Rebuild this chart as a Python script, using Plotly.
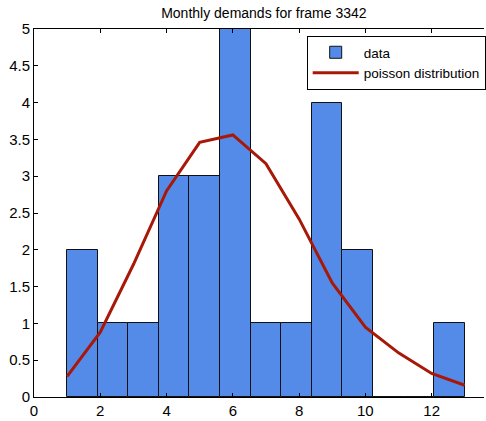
import plotly.graph_objects as go

# Data
bin_edges_min = 1.0
bin_edges_max = 13.0
n_bins = 13
counts = [2, 1, 1, 3, 3, 5, 1, 1, 4, 2, 0, 0, 1]
poisson_x = [1, 2, 3, 4, 5, 6, 7, 8, 9, 10, 11, 12, 13]
poisson_y = [0.28, 0.88, 1.8, 2.8, 3.46, 3.56, 3.17, 2.42, 1.55, 0.95, 0.6, 0.32, 0.16]

bw = (bin_edges_max - bin_edges_min) / n_bins
centers = [bin_edges_min + (k + 0.5) * bw for k in range(n_bins)]

font = "Liberation Sans, Arial, sans-serif"

fig = go.Figure()
fig.add_trace(go.Bar(
    x=centers, y=counts, width=bw, name="data",
    marker=dict(color="#558be8", line=dict(color="#111111", width=1)),
))
fig.add_trace(go.Scatter(
    x=poisson_x, y=poisson_y, mode="lines", name="poisson distribution",
    line=dict(color="#a81808", width=3),
))

fig.update_layout(
    width=486, height=421,
    margin=dict(l=34, r=0, t=29, b=24),
    paper_bgcolor="white", plot_bgcolor="white",
    font=dict(family=font, size=12, color="black"),
    title=dict(text="Monthly demands for frame 3342", x=0.543, xref="container",
               y=1 - 13 / 421, yref="container", xanchor="center", yanchor="middle",
               font=dict(size=14)),
    showlegend=True,
    legend=dict(x=0.606, y=0.981, xanchor="left", yanchor="top",
                bgcolor="white", bordercolor="black", borderwidth=1,
                font=dict(size=13.5), itemwidth=46, tracegroupgap=0),
    bargap=0,
)
fig.update_xaxes(range=[0, 13.58], tickvals=[0, 2, 4, 6, 8, 10, 12],
                 ticks="inside", ticklen=4, tickcolor="black",
                 showline=True, linecolor="black", linewidth=1, mirror="ticks",
                 showgrid=False, zeroline=False, tickfont=dict(size=15))
fig.update_yaxes(range=[0, 5], tickvals=[0, 0.5, 1, 1.5, 2, 2.5, 3, 3.5, 4, 4.5, 5],
                 ticktext=["0", "0.5", "1", "1.5", "2", "2.5", "3", "3.5", "4", "4.5", "5"],
                 ticks="inside", ticklen=4, tickcolor="black",
                 showline=True, linecolor="black", linewidth=1, mirror=False,
                 showgrid=False, zeroline=False, tickfont=dict(size=15))

fig.write_html("out.html")
